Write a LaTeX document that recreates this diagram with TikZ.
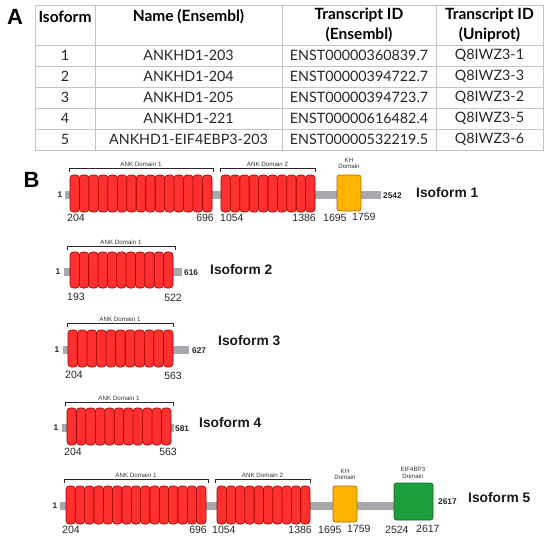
\documentclass[tikz,border=0pt]{standalone}
\usepackage{fontspec}
\setmainfont{Liberation Sans}
\newfontfamily\tabfont{Lato}
\definecolor{ankfill}{HTML}{FF3030}
\definecolor{ankdraw}{HTML}{A00000}
\definecolor{khfill}{HTML}{FFB400}
\definecolor{khdraw}{HTML}{B06A00}
\definecolor{eiffill}{HTML}{1C9E3A}
\definecolor{eifdraw}{HTML}{0E6B22}
\definecolor{barcol}{HTML}{A7A9AC}
\definecolor{tabline}{HTML}{C4C4C4}
\definecolor{txt}{HTML}{262626}
\tikzset{
  tabrule/.style={draw=tabline, line width=0.8pt},
  tabtxt/.style={font=\tabfont\fontsize{14.3}{15}\selectfont, text=txt, inner sep=0pt},
  tabhead/.style={font=\tabfont\bfseries\fontsize{15.5}{19.5}\selectfont, text=black, inner sep=0pt, align=center},
  panel/.style={font=\bfseries\fontsize{22}{22}\selectfont, inner sep=0pt},
  ankseg/.style={fill=ankfill, draw=ankdraw, line width=0.6pt, rounded corners=3.2pt},
  khbox/.style={fill=khfill, draw=khdraw, line width=0.7pt, rounded corners=2.5pt},
  eifbox/.style={fill=eiffill, draw=eifdraw, line width=0.7pt, rounded corners=2.5pt},
  bar/.style={fill=barcol, draw=none},
  brkline/.style={draw=black!85, line width=0.6pt},
  domlbl/.style={font=\fontsize{6.2}{6.7}\selectfont, text=black!80, inner sep=0pt, align=center},
  poslbl/.style={font=\fontsize{10.5}{11}\selectfont, text=txt, inner sep=0pt},
  endlbl/.style={font=\bfseries\fontsize{8.3}{9}\selectfont, text=txt, inner sep=0pt},
  isolbl/.style={font=\bfseries\fontsize{13.8}{14}\selectfont, text=black!90, inner sep=0pt, anchor=west},
}
\newcommand\ankrep[5]{%
  \pgfmathsetmacro\ankw{(#2-#1)/#5}%
  \foreach \k in {1,...,#5}{\draw[ankseg] ({#1+(\k-1)*\ankw},#3) rectangle ({#1+\k*\ankw},#4);}%
}
\newcommand\brk[5]{% x0 x1 y label name
  \draw[brkline] (#1,#3+4) -- (#1,#3) -- (#2,#3) -- (#2,#3+4);
  \node[domlbl] (#5) at ({(#1+#2)/2},#3-3.5) {#4};
}
\begin{document}
\begin{tikzpicture}[x=1pt,y=-1pt]
\useasboundingbox (0,0) rectangle (550,539);
% ---------------- Panel A ----------------
\node[panel] (A) at (15,16.5) {A};
\draw[tabrule] (35,5) rectangle (543,150);
\foreach \yy in {45,66,87,108,129} \draw[tabrule] (35,\yy) -- (543,\yy);
\foreach \xx in {95,282,436} \draw[tabrule] (\xx,5) -- (\xx,150);
\node[tabhead] (h1) at (65,16.5) {Isoform};
\node[tabhead] (h2) at (188.5,16.5) {Name (Ensembl)};
\node[tabhead] (h3) at (359,25) {Transcript ID\\(Ensembl)};
\node[tabhead] (h4) at (489.5,25) {Transcript ID\\(Uniprot)};
\foreach \n/\nm/\ens/\uni [count=\r] in {1/ANKHD1-203/ENST00000360839.7/Q8IWZ3-1,
  2/ANKHD1-204/ENST00000394722.7/Q8IWZ3-3,
  3/ANKHD1-205/ENST00000394723.7/Q8IWZ3-2,
  4/ANKHD1-221/ENST00000616482.4/Q8IWZ3-5,
  5/ANKHD1-EIF4EBP3-203/ENST00000532219.5/Q8IWZ3-6}{
  \pgfmathsetmacro\ry{55.5+(\r-1)*21}
  \node[tabtxt] (c1r\r) at (65,\ry) {\n};
  \node[tabtxt] (c2r\r) at (188.5,\ry) {\nm};
  \node[tabtxt] (c3r\r) at (359,\ry) {\ens};
  \node[tabtxt] (c4r\r) at (489.5,\ry) {\uni};
}
% ---------------- Panel B ----------------
\node[panel] (B) at (31.5,180) {B};
% Isoform 1
\fill[bar] (65,191) rectangle (381,199);
\ankrep{70}{212}{175}{212}{15}
\ankrep{221}{315}{175}{212}{10}
\draw[khbox] (337,175) rectangle (361,211);
\brk{69}{213}{168}{ANK Domain 1}{a1d1}
\brk{220}{315}{168}{ANK Domain 2}{a1d2}
\node[domlbl] (kh1) at (349,163.5) {KH\\Domain};
\node[endlbl] (s1) at (60,195) {1};
\node[endlbl, anchor=west] (e1) at (383,195.5) {2542};
\node[isolbl] (i1) at (416,193) {Isoform 1};
\node[poslbl, anchor=west] (p11) at (67,218) {204};
\node[poslbl, anchor=east] (p12) at (214,218) {696};
\node[poslbl, anchor=west] (p13) at (220,218) {1054};
\node[poslbl, anchor=east] (p14) at (316,217.5) {1386};
\node[poslbl, anchor=west] (p15) at (323,217.5) {1695};
\node[poslbl, anchor=west] (p16) at (352,216.5) {1759};
% Isoform 2
\fill[bar] (64,268) rectangle (182,276);
\ankrep{70}{173}{252}{288}{11}
\brk{67}{175}{246}{ANK Domain 1}{a2d1}
\node[endlbl] (s2) at (58,272) {1};
\node[endlbl, anchor=west] (e2) at (184,272.5) {616};
\node[isolbl] (i2) at (210,270) {Isoform 2};
\node[poslbl, anchor=west] (p21) at (67,297) {193};
\node[poslbl, anchor=east] (p22) at (182,298) {522};
% Isoform 3
\fill[bar] (63,346) rectangle (189,354);
\ankrep{68}{173}{330}{367}{11}
\brk{67}{173}{323}{ANK Domain 1}{a3d1}
\node[endlbl] (s3) at (57,350) {1};
\node[endlbl, anchor=west] (e3) at (192,350.5) {627};
\node[isolbl] (i3) at (218,341) {Isoform 3};
\node[poslbl, anchor=west] (p31) at (65,375) {204};
\node[poslbl, anchor=east] (p32) at (182,376) {563};
% Isoform 4
\fill[bar] (62,424) rectangle (174,432);
\ankrep{67}{171}{408}{445}{11}
\brk{65}{173}{402}{ANK Domain 1}{a4d1}
\node[endlbl] (s4) at (56,428) {1};
\node[endlbl, anchor=west] (e4) at (175,428.5) {581};
\node[isolbl] (i4) at (199,423) {Isoform 4};
\node[poslbl, anchor=west] (p41) at (64,452) {204};
\node[poslbl, anchor=east] (p42) at (177,452) {563};
% Isoform 5
\fill[bar] (60,502) rectangle (396,510);
\ankrep{66}{206}{486}{524}{15}
\ankrep{217}{310}{486}{524}{10}
\draw[khbox] (333,486) rectangle (357,522);
\draw[eifbox] (394,483) rectangle (433,520);
\brk{64}{208}{479}{ANK Domain 1}{a5d1}
\brk{215}{310}{479}{ANK Domain 2}{a5d2}
\node[domlbl] (kh5) at (345,474.5) {KH\\Domain};
\node[domlbl] (eif5) at (413,473) {EIF4BP3\\Domain};
\node[endlbl] (s5) at (55,506) {1};
\node[endlbl, anchor=west] (e5) at (438,501.5) {2617};
\node[isolbl] (i5) at (468,498) {Isoform 5};
\node[poslbl, anchor=west] (p51) at (62,530) {204};
\node[poslbl, anchor=east] (p52) at (207,530) {696};
\node[poslbl, anchor=west] (p53) at (212,530) {1054};
\node[poslbl, anchor=east] (p54) at (312,529.5) {1386};
\node[poslbl, anchor=west] (p55) at (318,529.5) {1695};
\node[poslbl, anchor=west] (p56) at (347,528.5) {1759};
\node[poslbl, anchor=west] (p57) at (385,529.5) {2524};
\node[poslbl, anchor=west] (p58) at (416,528.5) {2617};
\end{tikzpicture}
\end{document}
